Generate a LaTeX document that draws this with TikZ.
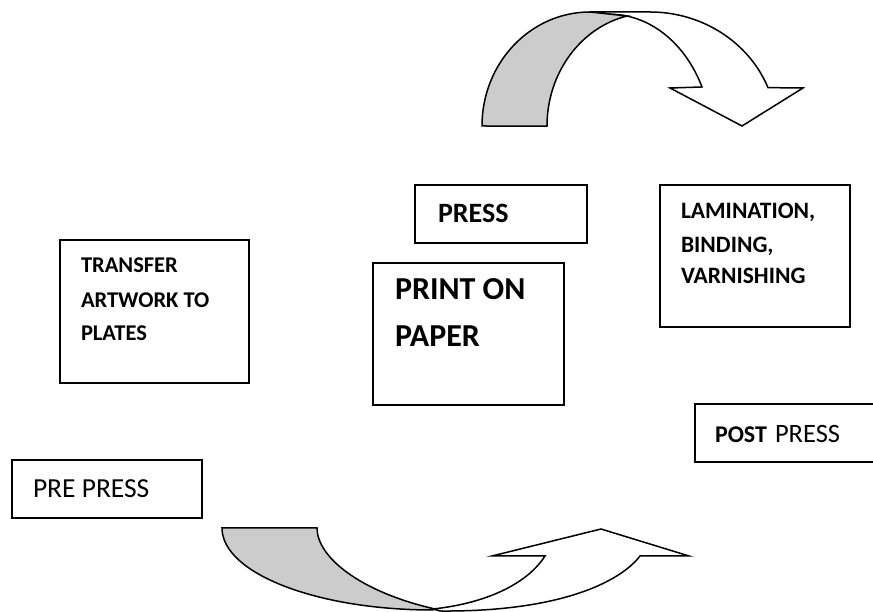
\documentclass[tikz,border=0pt]{standalone}
\usepackage{fontspec}
\setmainfont{Carlito}
\tikzset{
  box/.style={draw=black, line width=1.5pt, inner sep=0pt, outer sep=0pt, anchor=south west},
  lbl/.style={anchor=base west, inner sep=0pt, outer sep=0pt},
  arrowline/.style={draw=black, line width=1.5pt, line join=miter},
  shade/.style={arrowline, fill=black!20},
  blank/.style={arrowline, fill=white},
  smallbold/.style={font=\fontsize{22.5}{27}\selectfont\bfseries},
  lamibold/.style={font=\fontsize{23.5}{28}\selectfont\bfseries},
}
\begin{document}
\begin{tikzpicture}[x=1pt,y=1pt]
\useasboundingbox (0,0) rectangle (873,612);
\fill[white] (0,0) rectangle (873,612);

% boxes
\node[box, minimum width=189pt, minimum height=143pt] (transferbox) at (60,229) {};
\node[box, minimum width=172pt, minimum height=58pt] (pressbox) at (415,369) {};
\node[box, minimum width=191pt, minimum height=142pt] (printbox) at (373,207) {};
\node[box, minimum width=190pt, minimum height=142pt] (lamibox) at (660,285) {};
\node[box, minimum width=190pt, minimum height=58pt] (postbox) at (695,150) {};
\node[box, minimum width=190pt, minimum height=58pt] (prebox) at (12,94) {};

% texts
\node[lbl, smallbold] (t1) at (81,339) {TRANSFER};
\node[lbl, smallbold] (t2) at (81,304.3) {ARTWORK TO};
\node[lbl, smallbold] (t3) at (81,271) {PLATES};
\node[lbl, font=\fontsize{28}{32}\selectfont\bfseries] (t4) at (438,389) {PRESS};
\node[lbl, font=\fontsize{32}{38}\selectfont\bfseries] (t5) at (395,312) {PRINT ON};
\node[lbl, font=\fontsize{32}{38}\selectfont\bfseries] (t6) at (395,265.3) {PAPER};
\node[lbl, lamibold] (t7) at (681,393.7) {LAMINATION,};
\node[lbl, lamibold] (t8) at (681,359.3) {BINDING,};
\node[lbl, lamibold] (t9) at (681,328.7) {VARNISHING};
\node[lbl] (t10) at (715,169) {{\fontsize{24}{28}\selectfont\bfseries POST}\hspace{8pt}{\fontsize{26.5}{30}\selectfont PRESS}};
\node[lbl, font=\fontsize{27.5}{32}\selectfont] (t11) at (33,114) {PRE PRESS};

% top curved arrow
\draw[blank] (590,600) -- (650,600)
  arc[start angle=90, end angle=21.7, x radius=127pt, y radius=120pt]
  -- (803,524) -- (742,486) -- (670,524) -- (702,525)
  arc[start angle=25.6, end angle=90, x radius=102pt, y radius=128pt] -- cycle;
\draw[shade] (482,486)
  arc[start angle=180, end angle=90, x radius=108pt, y radius=114pt]
  -- (627,596)
  arc[start angle=102.9, end angle=180, x radius=103pt, y radius=113pt] -- cycle;

% bottom curved arrow
\draw[shade] (222,84) -- (317,84) .. controls (317,55) and (360,20) .. (435,3)
  -- (433,2) .. controls (316,2) and (222,39) .. (222,84) -- cycle;
\draw[blank] (433,3) .. controls (480,8) and (525,25) .. (545,56)
  -- (492,56) -- (601,83) -- (689,56) -- (640,56)
  .. controls (620,30) and (560,0) .. (440,1) -- cycle;
\end{tikzpicture}
\end{document}
